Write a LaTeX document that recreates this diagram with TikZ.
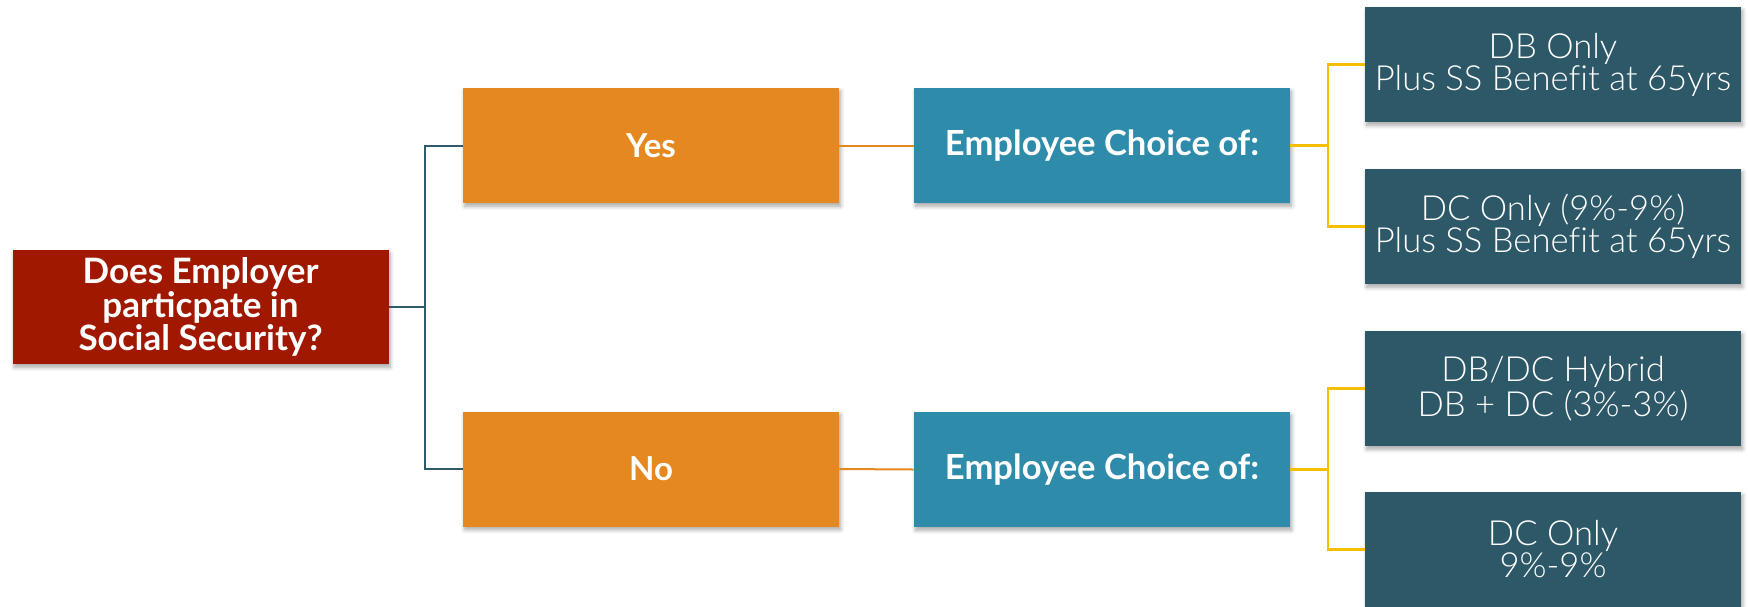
\documentclass[tikz,border=0pt]{standalone}
\usepackage{fontspec}
\setmainfont{Lato}
\newfontfamily\planfont{Lato Light}[Ligatures=NoCommon]
\usetikzlibrary{shadows.blur}
\definecolor{rootred}{HTML}{A01800}
\definecolor{ansorange}{HTML}{E68820}
\definecolor{choiceblue}{HTML}{2E8BAA}
\definecolor{plandark}{HTML}{2D5868}
\definecolor{linkyellow}{HTML}{F5BE00}
\definecolor{linkslate}{HTML}{2E5A6B}
\tikzset{
  box/.style={rectangle, inner sep=0pt, align=center, text=white,
    minimum width=188pt, minimum height=57.5pt,
    blur shadow={shadow blur steps=6, shadow xshift=0.8pt, shadow yshift=-1.6pt, shadow opacity=35}},
  rootbox/.style={box, fill=rootred, minimum height=57pt,
    font=\bfseries\fontsize{17.5}{15.5}\selectfont},
  answer/.style={box, fill=ansorange, font=\bfseries\fontsize{16.5}{19}\selectfont},
  choice/.style={box, fill=choiceblue, font=\bfseries\fontsize{17.3}{19}\selectfont},
  plan/.style={box, fill=plandark, font=\planfont\fontsize{17.3}{16}\selectfont},
  slatelink/.style={draw=linkslate, line width=1pt},
  orangelink/.style={draw=ansorange, line width=1pt},
  yellowlink/.style={draw=linkyellow, line width=1.2pt},
}
\begin{document}
\begin{tikzpicture}[x=0.5pt, y=-0.5pt]
  \useasboundingbox (0,0) rectangle (1748,606);

  % question
  \node[rootbox] (root) at (200.5,307) {Does Employer\\particpate in\\Social Security?};

  % answers
  \node[answer] (yes) at (651,145.5) {Yes};
  \node[answer] (no)  at (651,469)   {No};

  % choice boxes
  \node[choice] (cyes) at (1102,145.5) {Employee Choice of:};
  \node[choice] (cno)  at (1102,469.5) {Employee Choice of:};

  % plan options
  \node[plan] (d1) at (1553,64.5)  {DB Only\\Plus SS Benefit at 65yrs};
  \node[plan] (d2) at (1553,226.5) {DC Only (9\%-9\%)\\Plus SS Benefit at 65yrs};
  \node[plan] (d3) at (1553,388.5) {DB/DC Hybrid\\DB + DC (3\%-3\%)};
  \node[plan] (d4) at (1553,549.5) {DC Only\\9\%-9\%};

  % branch points
  \coordinate (j1) at (425,307);
  \coordinate (j2) at (1328,145.5);
  \coordinate (j3) at (1328,469.5);

  % connectors
  \draw[slatelink] (root.east) -- (j1);
  \draw[slatelink] (yes.west) -| (j1) |- (no.west);
  \draw[orangelink] (yes.east) -- (cyes.west);
  \draw[orangelink] (no.east) -- (cno.west);
  \draw[yellowlink] (cyes.east) -- (j2);
  \draw[yellowlink] (d1.west) -| (j2) |- (d2.west);
  \draw[yellowlink] (cno.east) -- (j3);
  \draw[yellowlink] (d3.west) -| (j3) |- (d4.west);
\end{tikzpicture}
\end{document}
